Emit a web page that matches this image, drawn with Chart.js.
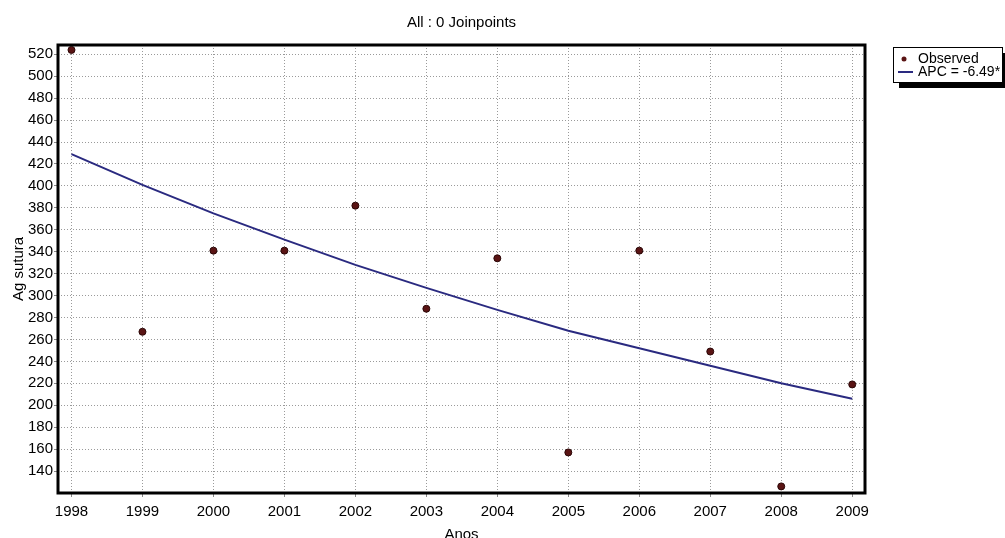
<!DOCTYPE html>
<html>
<head>
<meta charset="utf-8">
<script src="https://cdn.jsdelivr.net/npm/chart.js@4.4.0/dist/chart.umd.min.js"></script>
<style>
    html, body { margin: 0; padding: 0; background: #fff; }
    #wrap { width: 1005px; height: 538px; }
</style>
</head>
<body>
<div id="wrap"><canvas id="chart"></canvas></div>
<script>
// Values
const years    = [1998, 1999, 2000, 2001, 2002, 2003, 2004, 2005, 2006, 2007, 2008, 2009];
const observed = [524, 267, 341, 341, 382, 288, 334, 157, 341, 249, 126, 219];
const apcFit   = [429, 401, 375, 351, 328, 307, 287, 268, 252, 236, 220, 206];
const yTicks   = [140, 160, 180, 200, 220, 240, 260, 280, 300, 320, 340, 360, 380, 400, 420, 440, 460, 480, 500, 520];

const FONT = "'Liberation Sans', Arial, sans-serif";
const POINT_COLOR = '#5a1414';
const LINE_COLOR  = '#2a2a80';

const toPoints = vals => vals.map((v, i) => ({ x: years[i], y: v }));

// Thick black frame round the plot area
const plotFrame = {
    id: 'plotFrame',
    afterDatasetsDraw(chart) {
        const { ctx, chartArea: a } = chart;
        ctx.save();
        ctx.strokeStyle = '#000';
        ctx.lineWidth = 3;
        ctx.strokeRect(a.left, a.top, a.right - a.left, a.bottom - a.top);
        ctx.restore();
    }
};

// Boxed legend with a drop shadow, top right
const boxLegend = {
    id: 'boxLegend',
    afterDraw(chart) {
        const { ctx } = chart;
        const x = 893, y = 47, w = 109, h = 35;
        ctx.save();
        ctx.fillStyle = '#000';
        ctx.fillRect(x + 6, y + 6, w, h);
        ctx.fillStyle = '#fff';
        ctx.fillRect(x, y, w, h);
        ctx.strokeStyle = '#000';
        ctx.lineWidth = 1;
        ctx.strokeRect(x + 0.5, y + 0.5, w, h);

        ctx.font = '14px ' + FONT;
        ctx.textBaseline = 'middle';
        ctx.fillStyle = '#000';
        chart.data.datasets.forEach((ds, i) => {
            const cy = y + 12 + i * 13;
            if (ds.showLine) {
                ctx.strokeStyle = ds.borderColor;
                ctx.lineWidth = 2;
                ctx.beginPath();
                ctx.moveTo(898, cy);
                ctx.lineTo(913, cy);
                ctx.stroke();
            } else {
                ctx.fillStyle = ds.pointBackgroundColor;
                ctx.beginPath();
                ctx.arc(904, cy, 2.5, 0, Math.PI * 2);
                ctx.fill();
            }
            ctx.fillStyle = '#000';
            ctx.fillText(ds.label, 918, cy);
        });
        ctx.restore();
    }
};

new Chart(document.getElementById('chart'), {
    type: 'scatter',
    data: {
        datasets: [
            {
                label: 'Observed',
                data: toPoints(observed),
                showLine: false,
                pointRadius: 3.5,
                pointBackgroundColor: POINT_COLOR,
                pointBorderColor: '#2a0606',
                pointBorderWidth: 1,
                order: 0,
            },
            {
                label: 'APC = -6.49*',
                data: toPoints(apcFit),
                showLine: true,
                borderColor: LINE_COLOR,
                borderWidth: 2,
                pointRadius: 0,
                tension: 0,
                order: 1,
            },
        ],
    },
    options: {
        responsive: true,
        maintainAspectRatio: false,
        animation: false,
        devicePixelRatio: 1,
        layout: { padding: { left: 0, right: 140, top: 0, bottom: 0 } },
        plugins: {
            legend: { display: false },
            tooltip: { enabled: false },
            title: {
                display: true,
                text: 'All : 0 Joinpoints',
                fullSize: false,
                color: '#000',
                font: { family: FONT, size: 15, weight: 'normal' },
                padding: { top: 14, bottom: 13 },
            },
        },
        scales: {
            x: {
                type: 'linear',
                min: 1997.81,
                max: 2009.18,
                afterBuildTicks: s => { s.ticks = years.map(v => ({ value: v })); },
                afterFit: s => { s.height = 45; },
                ticks: {
                    color: '#000',
                    font: { family: FONT, size: 15 },
                    padding: 6,
                    maxRotation: 0,
                    callback: v => String(v),
                },
                grid: { color: '#9a9a9a', lineWidth: 1, tickLength: 4, tickColor: '#888' },
                border: { display: false, dash: [1, 2] },
                title: {
                    display: true,
                    text: 'Anos',
                    color: '#000',
                    font: { family: FONT, size: 15 },
                    padding: { top: 0, bottom: -6 },
                },
            },
            y: {
                type: 'linear',
                min: 120,
                max: 528.5,
                afterBuildTicks: s => { s.ticks = yTicks.map(v => ({ value: v })); },
                afterFit: s => { s.width = 58; },
                ticks: {
                    color: '#000',
                    font: { family: FONT, size: 15 },
                    padding: 1,
                    callback: v => String(v),
                },
                grid: { color: '#9a9a9a', lineWidth: 1, tickLength: 4, tickColor: '#888' },
                border: { display: false, dash: [1, 2] },
                title: {
                    display: true,
                    text: 'Ag sutura',
                    color: '#000',
                    font: { family: FONT, size: 15 },
                    padding: { top: 10, bottom: 0 },
                },
            },
        },
    },
    plugins: [plotFrame, boxLegend],
});
</script>
</body>
</html>
